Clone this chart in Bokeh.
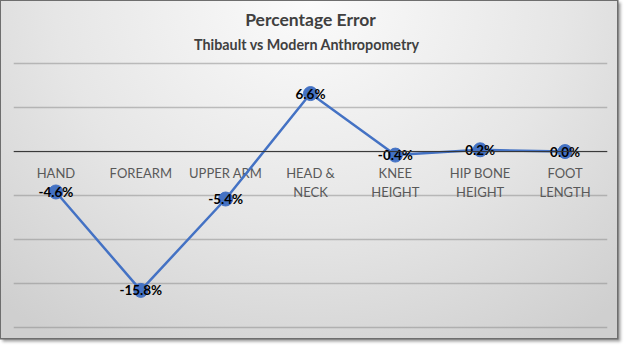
from bokeh.plotting import figure
from bokeh.models import FactorRange, Span, Title, FixedTicker, ColumnDataSource, Grid
from bokeh.core.properties import value
from bokeh.embed import file_html
from bokeh.resources import INLINE

# ---- data ----
categories = ["HAND", "FOREARM", "UPPER ARM", "HEAD & NECK", "KNEE HEIGHT", "HIP BONE HEIGHT", "FOOT LENGTH"]
axis_labels = ["HAND", "FOREARM", "UPPER ARM", "HEAD &\nNECK", "KNEE\nHEIGHT", "HIP BONE\nHEIGHT", "FOOT\nLENGTH"]
pct_error = [-4.6, -15.8, -5.4, 6.6, -0.4, 0.2, 0.0]
y_ticks = [-20, -15, -10, -5, 0, 5, 10]
title_text = "Percentage Error"
subtitle_text = "Thibault  vs Modern  Anthropometry"

FONT = "Lato"

src = ColumnDataSource(dict(
    cat=categories,
    val=pct_error,
    lab=["{:.1f}%".format(v) for v in pct_error],
    axl=axis_labels,
    zero=[0] * len(categories),
))

p = figure(
    width=616, height=337,
    x_range=FactorRange(factors=categories, range_padding=0),
    y_range=(y_ticks[0] - 0.25, y_ticks[-1] + 0.25),
    x_axis_type=None, y_axis_type=None,
    output_backend="svg", toolbar_location=None,
    min_border_left=12, min_border_right=10, min_border_top=60, min_border_bottom=9,
    title=None,
)
p.margin = (1, 0, 0, 1)
p.background_fill_alpha = 0
p.border_fill_alpha = 0
p.outline_line_color = None
p.styles = {
    "background": "radial-gradient(ellipse 75% 120% at 50% 0%, #fbfbfb 0%, #e6e6e6 55%, #cfcfcf 100%)",
    "box-shadow": "0px 0px 0px 1.5px #6e6e6e, 2px 2px 3px 1.5px #9a9a9a",
}

# titles (sub first -> nearest the frame)
p.add_layout(Title(text=subtitle_text, align="center", text_font=FONT, text_font_size="14.3px",
                   text_font_style="bold", text_color="#404040", standoff=13,
                   vertical_align="top"), "above")
p.add_layout(Title(text=title_text, align="center", text_font=FONT, text_font_size="17.5px",
                   text_font_style="bold", text_color="#404040", standoff=0,
                   vertical_align="bottom"), "above")

# gridlines
grid = Grid(dimension=1, ticker=FixedTicker(ticks=y_ticks), grid_line_color="#888888",
            grid_line_alpha=0.5, grid_line_width=1.5)
p.add_layout(grid)

# zero line
p.add_layout(Span(location=0, dimension="width", line_color="#333333", line_width=1))

# category labels under the zero line
p.text(x="cat", y="zero", text="axl", source=src, text_font=value(FONT), text_font_size="13px",
       text_color="#595959", text_align="center", text_baseline="top", y_offset=13,
       text_line_height=1.2)

# series
p.line(x="cat", y="val", source=src, line_color="#4472C4", line_width=2.5)
p.scatter(x="cat", y="val", source=src, size=14, fill_color="#4472C4", line_color="#4472C4")

# data labels
p.text(x="cat", y="val", text="lab", source=src, text_font=value(FONT), text_font_size="13.5px",
       text_font_style="bold", text_color="#000000", text_align="center", text_baseline="middle")

open("out.html", "w").write(file_html(p, INLINE))
